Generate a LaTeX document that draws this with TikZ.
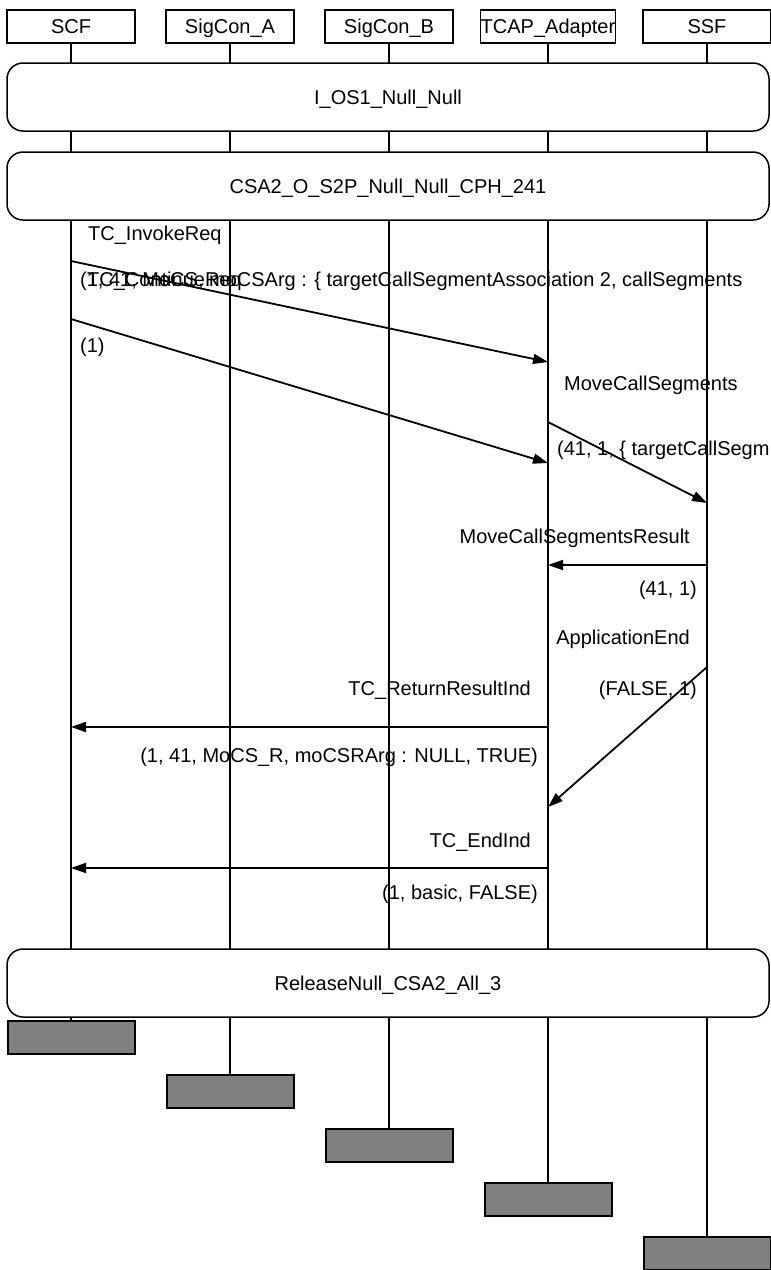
\documentclass[tikz,border=0pt]{standalone}
\usepackage{fontspec}
\setmainfont{Liberation Sans}
\usetikzlibrary{arrows.meta}
\begin{document}
\begin{tikzpicture}[x=1pt,y=-1pt,
  every node/.style={font=\fontsize{20}{24}\selectfont, inner sep=0pt},
  head/.style={draw=black, line width=1.4pt, minimum width=128pt, minimum height=33pt, text height=14.3pt, text depth=0pt},
  frame/.style={draw=black, fill=white, line width=1.5pt, rounded corners=16pt, minimum width=762pt, minimum height=68pt, text height=14.3pt, text depth=0pt},
  endbox/.style={draw=black, fill=black!50, line width=2pt, minimum width=127pt, minimum height=33pt},
  life/.style={draw=black, line width=1.3pt},
  msg/.style={draw=black, line width=1.8pt, -{Triangle[length=15pt,width=10pt]}},
  lw/.style={anchor=base west},
  le/.style={anchor=base east}
]
\useasboundingbox (0,0) rectangle (771,1270);
% heads
\node[head] (scf) at (71,26.5) {SCF};
\node[head] (sca) at (230,26.5) {SigCon\_A};
\node[head] (scb) at (389,26.5) {SigCon\_B};
\node[head] (tcap) at (548,26.5) {TCAP\_Adapter};
\node[head] (ssf) at (707,26.5) {SSF};
% end boxes
\node[endbox] (scfE) at (71,1037.5) {};
\node[endbox] (scaE) at (230,1091.5) {};
\node[endbox] (scbE) at (389,1145.5) {};
\node[endbox] (tcapE) at (548,1199.5) {};
\node[endbox] (ssfE) at (707,1253.5) {};
% lifelines
\draw[life] (scf.south) -- (scfE.north);
\draw[life] (sca.south) -- (scaE.north);
\draw[life] (scb.south) -- (scbE.north);
\draw[life] (tcap.south) -- (tcapE.north);
\draw[life] (ssf.south) -- (ssfE.north);
% frames
\node[frame] (f1) at (388,97) {I\_OS1\_Null\_Null};
\node[frame] (f2) at (388,186) {CSA2\_O\_S2P\_Null\_Null\_CPH\_241};
\node[frame] (f3) at (388,983) {ReleaseNull\_CSA2\_All\_3};
% message endpoints
\coordinate (a1s) at (71,261);  \coordinate (a1e) at (548,362);
\coordinate (a2s) at (71,319);  \coordinate (a2e) at (548,463);
\coordinate (a3s) at (548,422); \coordinate (a3e) at (707,503);
\coordinate (a4s) at (707,565); \coordinate (a4e) at (548,565);
\coordinate (a5s) at (707,667); \coordinate (a5e) at (548,807);
\coordinate (a6s) at (548,727); \coordinate (a6e) at (71,727);
\coordinate (a7s) at (548,868); \coordinate (a7e) at (71,868);
\draw[msg] (a1s) -- (a1e);
\draw[msg] (a2s) -- (a2e);
\draw[msg] (a3s) -- (a3e);
\draw[msg] (a4s) -- (a4e);
\draw[msg] (a5s) -- (a5e);
\draw[msg] (a6s) -- (a6e);
\draw[msg] (a7s) -- (a7e);
% labels
\node[lw] (n1) at (88,240) {TC\_InvokeReq};
\node[lw] (p1) at (80,286) {(1, 41, MoCS, moCSArg : \{ targetCallSegmentAssociation 2, callSegments};
\node[lw] (n2) at (87,286) {TC\_ContinueReq};
\node[lw] (p2) at (80,352) {(1)};
\node[lw] (n3) at (564,390) {MoveCallSegments};
\node[lw] (p3) at (557,455) {(41, 1, \{ targetCallSegm};
\node[le] (n4) at (690,543) {MoveCallSegmentsResult};
\node[le] (p4) at (697,595) {(41, 1)};
\node[le] (n5) at (690,644) {ApplicationEnd};
\node[le] (p5) at (697,695) {(FALSE, 1)};
\node[le] (n6) at (531,695) {TC\_ReturnResultInd};
\node[le] (p6) at (538,762) {(1, 41, MoCS\_R, moCSRArg : NULL, TRUE)};
\node[le] (n7) at (531,847) {TC\_EndInd};
\node[le] (p7) at (538,899) {(1, basic, FALSE)};
\end{tikzpicture}
\end{document}
